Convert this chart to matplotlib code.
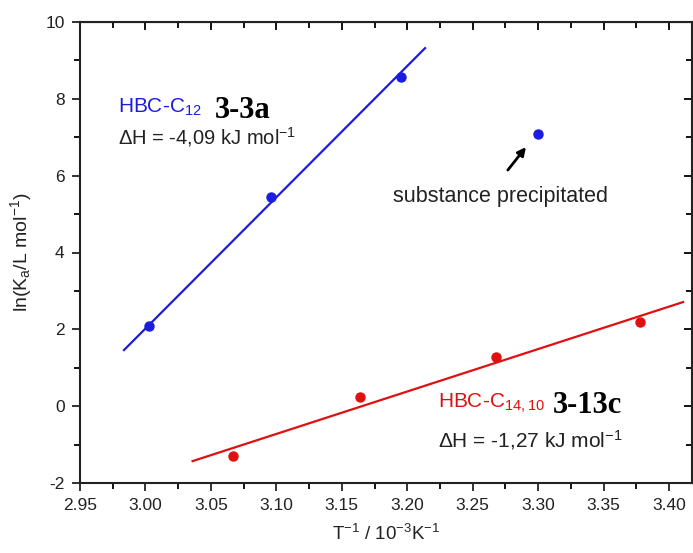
import matplotlib.pyplot as plt
from matplotlib.ticker import MultipleLocator

# data
blue_x = [3.003, 3.096, 3.195]
blue_y = [2.08, 5.45, 8.58]
prec_x = [3.300]
prec_y = [7.08]
blue_fit_x = [2.9836, 3.2136]
blue_fit_y = [1.46, 9.32]

red_x = [3.067, 3.164, 3.268, 3.378]
red_y = [-1.29, 0.23, 1.28, 2.19]
red_fit_x = [3.036, 3.4107]
red_fit_y = [-1.43, 2.71]

blue = '#1c1ce0'
red = '#e01010'

plt.rcParams['font.family'] = ['Liberation Sans', 'DejaVu Sans']
plt.rcParams['mathtext.fontset'] = 'custom'
plt.rcParams['mathtext.rm'] = 'Liberation Sans'
plt.rcParams['mathtext.it'] = 'Liberation Sans'
plt.rcParams['axes.unicode_minus'] = False

fig = plt.figure(figsize=(6.93, 5.53), dpi=100)
ax = fig.add_axes([80/693, 1-483/553, 612/693, 461/553])

ax.plot(blue_fit_x, blue_fit_y, color=blue, lw=1.6)
ax.plot(blue_x, blue_y, 'o', color=blue, ms=6.5)
ax.plot(prec_x, prec_y, 'o', color=blue, ms=6.5)
ax.plot(red_fit_x, red_fit_y, color=red, lw=1.6)
ax.plot(red_x, red_y, 'o', color=red, ms=6.5)

ax.set_xlim(2.95, 3.4175)
ax.set_ylim(-2, 10)
ax.xaxis.set_major_locator(MultipleLocator(0.05))
ax.xaxis.set_minor_locator(MultipleLocator(0.025))
ax.yaxis.set_major_locator(MultipleLocator(2))
ax.yaxis.set_minor_locator(MultipleLocator(1))
ax.xaxis.set_major_formatter(plt.FormatStrFormatter('%.2f'))
ax.tick_params(which='major', direction='out', length=6, width=1.3, labelsize=12.5,
               colors='#222222', pad=5)
ax.tick_params(which='minor', direction='out', length=4, width=1.3)
for s in ax.spines.values():
    s.set_linewidth(1.5)
    s.set_color('#222222')

top = ax.secondary_xaxis('top')
top.xaxis.set_major_locator(MultipleLocator(0.05))
top.xaxis.set_minor_locator(MultipleLocator(0.025))
top.tick_params(which='major', direction='in', length=6, width=1.3, labeltop=False)
top.tick_params(which='minor', direction='in', length=4, width=1.3)
right = ax.secondary_yaxis('right')
right.yaxis.set_major_locator(MultipleLocator(2))
right.yaxis.set_minor_locator(MultipleLocator(1))
right.tick_params(which='major', direction='in', length=6, width=1.3, labelright=False)
right.tick_params(which='minor', direction='in', length=4, width=1.3)

ax.set_xlabel('T$^{-1}$ / 10$^{-3}$K$^{-1}$', fontsize=13.5, labelpad=8, color='#222222')
ax.set_ylabel('ln(K$_a$/L mol$^{-1}$)', fontsize=14, labelpad=8, color='#222222')

ax.text(2.979, 7.63, 'HBC-C$_{12}$', color=blue, fontsize=15)
ax.text(3.053, 7.5, '3-3a', fontsize=22, fontweight='bold', family='Liberation Serif')
ax.text(2.979, 6.82, '\u0394H = -4,09 kJ mol$^{-1}$', fontsize=14.5, color='#222222')

ax.annotate('', xy=(3.292, 6.80), xytext=(3.2755, 6.09),
            arrowprops=dict(arrowstyle='-|>', color='black', lw=2, mutation_scale=12))
ax.text(3.189, 5.31, 'substance precipitated', fontsize=15.5, color='#222222')

ax.text(3.2235, -0.03, 'HBC-C$_{14,10}$', color=red, fontsize=15)
ax.text(3.311, -0.18, '3-13c', fontsize=22, fontweight='bold', family='Liberation Serif')
ax.text(3.2235, -1.07, '\u0394H = -1,27 kJ mol$^{-1}$', fontsize=15, color='#222222')

fig.savefig('out.png', dpi=100)
